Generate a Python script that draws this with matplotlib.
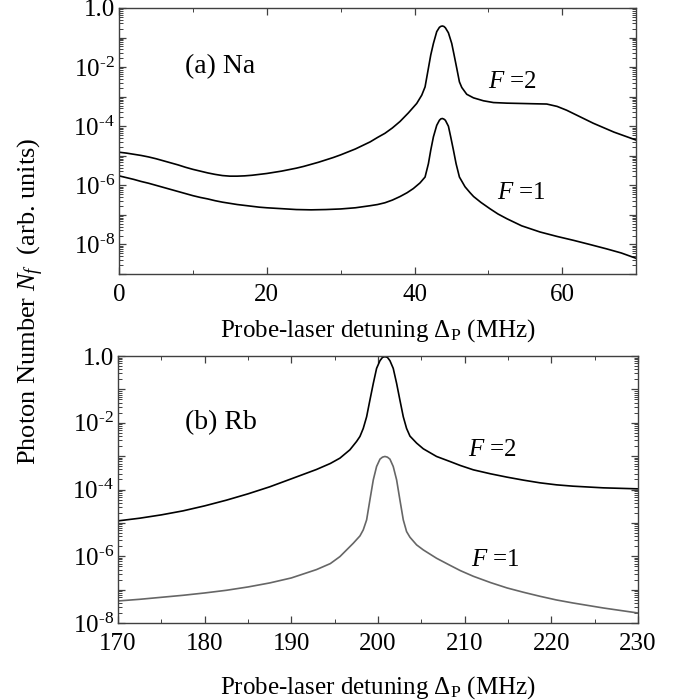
import numpy as np
import matplotlib
matplotlib.use("Agg")
import matplotlib.pyplot as plt
from matplotlib.ticker import LogLocator, NullFormatter, FuncFormatter, MultipleLocator

plt.rcParams['font.family'] = ['Liberation Serif', 'DejaVu Serif']
plt.rcParams['mathtext.fontset'] = 'custom'
plt.rcParams['mathtext.rm'] = 'Liberation Serif'
plt.rcParams['mathtext.it'] = 'Liberation Serif:italic'
plt.rcParams['mathtext.bf'] = 'Liberation Serif:bold'

# ---- (a) Na : detuning (MHz) and log10(photon number) ----
na_f2_x = [0, 1, 2, 3, 4, 5, 6, 7, 8, 9, 10, 11, 12, 13, 14, 15, 16, 17, 18, 19, 20, 21, 22,
           23, 24, 25, 26, 27, 28, 29, 30, 31, 32, 33, 34, 35, 36, 37, 38.04, 39.17, 40.30,
           40.98, 41.43, 41.88, 42.20, 42.56, 43.01, 43.37, 43.58, 43.78, 43.98, 44.18, 44.59,
           45.04, 45.36, 45.72, 46.08, 46.40, 47.07, 47.98, 49.33, 50.69, 52.5, 54.30, 56.0,
           57.9, 59.3, 60.6, 62.4, 64.2, 67, 70]
na_f2_log = [-4.88, -4.91, -4.95, -4.99, -5.04, -5.10, -5.17, -5.24, -5.31, -5.39, -5.46, -5.52,
             -5.58, -5.63, -5.67, -5.69, -5.69, -5.68, -5.66, -5.63, -5.60, -5.56, -5.52, -5.47,
             -5.42, -5.36, -5.29, -5.22, -5.14, -5.06, -4.97, -4.87, -4.77, -4.65, -4.53, -4.38,
             -4.24, -4.06, -3.84, -3.55, -3.23, -2.95, -2.67, -2.04, -1.59, -1.20, -0.80, -0.655,
             -0.62, -0.61, -0.625, -0.67, -0.84, -1.20, -1.59, -2.04, -2.50, -2.69, -2.92, -3.04,
             -3.14, -3.20, -3.22, -3.23, -3.24, -3.25, -3.33, -3.46, -3.68, -3.90, -4.20, -4.47]

na_f1_x = [0, 1, 2, 3, 4, 5, 6, 7, 8, 9, 10, 11, 12, 13, 14, 15, 16, 17, 18, 19, 20, 22, 24,
           26, 28, 30, 32, 34, 35, 36, 37, 38.04, 39, 39.84, 40.74, 41.43, 41.88, 42.20, 42.56,
           43.01, 43.37, 43.58, 43.78, 43.98, 44.18, 44.59, 44.90, 45.27, 45.63, 46.08, 46.84,
           47.52, 48.0, 49.0, 50.2, 51.3, 52.5, 54.5, 57.0, 59.3, 61.5, 63.7, 66.0, 68.0, 70.0]
na_f1_log = [-5.68, -5.74, -5.80, -5.87, -5.93, -6.00, -6.07, -6.14, -6.21, -6.28, -6.35, -6.41,
             -6.46, -6.52, -6.57, -6.61, -6.65, -6.68, -6.71, -6.74, -6.76, -6.79, -6.82, -6.83,
             -6.82, -6.80, -6.76, -6.69, -6.65, -6.59, -6.50, -6.38, -6.25, -6.11, -5.92, -5.72,
             -5.27, -4.81, -4.36, -3.97, -3.80, -3.75, -3.74, -3.76, -3.80, -4.00, -4.36, -4.81,
             -5.27, -5.72, -6.05, -6.25, -6.38, -6.58, -6.79, -6.97, -7.13, -7.37, -7.58, -7.73,
             -7.86, -8.00, -8.15, -8.29, -8.47]

# ---- (b) Rb ----
rb_f2_x = [170, 172.5, 175, 177.5, 180, 182.5, 185, 187.5, 190, 192.9, 194.5, 195.61, 196.76,
           197.53, 197.92, 198.30, 198.69, 199.07, 199.46, 199.84, 200.23, 200.52, 200.80,
           201.09, 201.38, 201.76, 202.15, 202.53, 202.92, 203.30, 203.69, 204.46, 205.23,
           206.76, 208.30, 209.5, 211, 213, 214.9, 216.8, 218.7, 220.6, 222.5, 226, 230]
rb_f2_log = [-4.94, -4.86, -4.76, -4.64, -4.49, -4.32, -4.13, -3.92, -3.68, -3.40, -3.22, -3.06,
             -2.81, -2.56, -2.41, -2.17, -1.82, -1.32, -0.82, -0.37, -0.14, -0.04, -0.02, -0.04,
             -0.14, -0.37, -0.82, -1.32, -1.82, -2.17, -2.40, -2.61, -2.78, -3.01, -3.16, -3.28,
             -3.41, -3.53, -3.63, -3.72, -3.80, -3.86, -3.90, -3.95, -3.98]

rb_f1_x = [170, 172.5, 175, 177.5, 180, 182.5, 185, 187.5, 190, 192.9, 194.5, 195.61, 197.15,
           197.92, 198.30, 198.69, 199.07, 199.46, 199.84, 200.23, 200.52, 200.80, 201.09,
           201.38, 201.76, 202.15, 202.53, 202.92, 203.30, 203.69, 204.46, 205.23, 206.76,
           208.30, 209.5, 211, 213, 214.9, 216.8, 218.7, 220.6, 222.5, 226, 230]
rb_f1_log = [-7.34, -7.29, -7.23, -7.17, -7.10, -7.02, -6.92, -6.80, -6.65, -6.40, -6.22, -6.01,
             -5.61, -5.39, -5.21, -4.91, -4.31, -3.71, -3.31, -3.09, -3.03, -3.01, -3.03, -3.09,
             -3.31, -3.71, -4.31, -4.91, -5.26, -5.43, -5.66, -5.81, -6.06, -6.27, -6.43, -6.60,
             -6.79, -6.95, -7.08, -7.20, -7.31, -7.40, -7.55, -7.70]

xlabel = r'Probe-laser detuning $\Delta_{\rm P}$ (MHz)'
ylabel = r'Photon Number $N_f$  (arb. units)'

fig = plt.figure(figsize=(6.84, 7.0), dpi=100)
axa = fig.add_axes([0.174, 0.6086, 0.756, 0.38])
axb = fig.add_axes([0.1725, 0.11, 0.7602, 0.3814])

spine_col = '#404040'
fs_tick = 18
fs_lab = 18

def ylab(v, pos):
    e = int(round(np.log10(v)))
    if e == 0:
        return '1.0'
    if e % 2 != 0:
        return ''
    return r'$\mathregular{10^{\text{-}%d}}$' % (-e)

def style(ax, ymin, ymax, xmaj, xmin_, lpad):
    ax.set_yscale('log')
    ax.set_ylim(ymin, ymax)
    ax.yaxis.set_major_locator(LogLocator(base=10, numticks=20))
    ax.yaxis.set_minor_locator(LogLocator(base=10, subs=np.arange(2, 10), numticks=20))
    ax.yaxis.set_major_formatter(FuncFormatter(ylab))
    ax.yaxis.set_minor_formatter(NullFormatter())
    ax.xaxis.set_major_locator(MultipleLocator(xmaj))
    ax.xaxis.set_minor_locator(MultipleLocator(xmin_))
    ax.tick_params(which='both', direction='in', top=True, right=True, colors=spine_col,
                   labelcolor='black', labelsize=fs_tick)
    ax.tick_params(which='major', length=5, width=0.9)
    ax.tick_params(which='minor', length=3, width=0.7)
    ax.tick_params(axis='x', pad=7)
    ax.tick_params(axis='y', pad=3)
    for s in ax.spines.values():
        s.set_color(spine_col)
        s.set_linewidth(1.0)
    ax.set_xlabel(xlabel, fontsize=fs_lab, labelpad=lpad)

axa.plot(na_f2_x, 10 ** np.array(na_f2_log), color='black', lw=1.2)
axa.plot(na_f1_x, 10 ** np.array(na_f1_log), color='black', lw=1.2)
axa.set_xlim(0, 70)
style(axa, 1e-9, 1.0, 20, 10, 8)
axa.text(0.128, 0.778, '(a) Na', transform=axa.transAxes, fontsize=20, va='center', ha='left')
axa.text(0.714, 0.722, r'$F$ =2', transform=axa.transAxes, fontsize=18, va='center', ha='left')
axa.text(0.731, 0.305, r'$F$ =1', transform=axa.transAxes, fontsize=18, va='center', ha='left')

axb.plot(rb_f2_x, 10 ** np.array(rb_f2_log), color='black', lw=1.2)
axb.plot(rb_f1_x, 10 ** np.array(rb_f1_log), color='#666666', lw=1.2)
axb.set_xlim(170, 230)
style(axb, 1e-8, 1.0, 10, 5, 14)
axb.text(0.128, 0.749, '(b) Rb', transform=axb.transAxes, fontsize=20, va='center', ha='left')
axb.text(0.673, 0.648, r'$F$ =2', transform=axb.transAxes, fontsize=18, va='center', ha='left')
axb.text(0.679, 0.236, r'$F$ =1', transform=axb.transAxes, fontsize=18, va='center', ha='left')

fig.text(0.045, 0.57, ylabel, rotation=90, fontsize=19, va='center', ha='center')

fig.savefig('out.png', dpi=100)
